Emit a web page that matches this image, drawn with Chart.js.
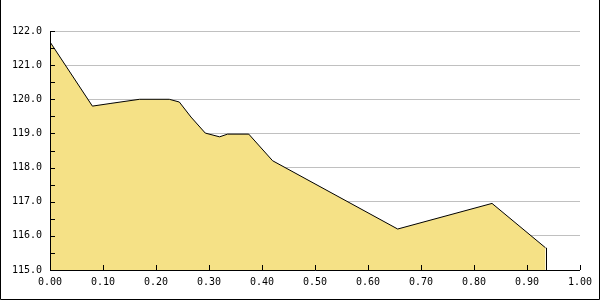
<!DOCTYPE html>
<html>
<head>
<meta charset="utf-8">
<script src="https://cdn.jsdelivr.net/npm/chart.js@4"></script>
<style>
  html, body { margin: 0; padding: 0; background: #fff; }
  #wrap { width: 600px; height: 300px; position: relative; }
</style>
</head>
<body>
<div id="wrap"><canvas id="area-chart" width="600" height="300"></canvas></div>
<script>
// values
var xs = [0.00, 0.080, 0.115, 0.169, 0.225, 0.244, 0.266, 0.293, 0.320, 0.335, 0.375, 0.420, 0.656, 0.834, 0.935];
var ys = [121.68, 119.80, 119.88, 120.00, 120.00, 119.92, 119.48, 119.01, 118.90, 118.98, 118.98, 118.20, 116.20, 116.95, 115.65];
var yTicks = [115, 116, 117, 118, 119, 120, 121, 122];
var xTicks = [0, 0.1, 0.2, 0.3, 0.4, 0.5, 0.6, 0.7, 0.8, 0.9, 1.0];

var points = xs.map(function (x, i) { return { x: x, y: ys[i] }; });

// small inward tick marks, closing edge of the area + outer frame lines
var extras = {
  id: 'extras',
  afterDraw: function (chart) {
    var ctx = chart.ctx, a = chart.chartArea;
    var sx = chart.scales.x, sy = chart.scales.y;
    var bottom = Math.round(a.bottom), left = Math.round(a.left);
    ctx.save();
    ctx.strokeStyle = '#000';
    ctx.lineWidth = 1;
    ctx.beginPath();
    // right edge of the filled area, from the last point down to the axis
    var last = points[points.length - 1];
    var lx = Math.round(sx.getPixelForValue(last.x)) + 0.5;
    ctx.moveTo(lx, sy.getPixelForValue(last.y));
    ctx.lineTo(lx, bottom);
    // axis lines
    ctx.moveTo(left + 0.5, a.top);
    ctx.lineTo(left + 0.5, bottom + 0.5);
    ctx.lineTo(a.right, bottom + 0.5);
    // y ticks at every half unit, pointing inward
    for (var v = 115; v <= 122; v += 0.5) {
      var py = Math.round(sy.getPixelForValue(v)) + 0.5;
      ctx.moveTo(left, py);
      ctx.lineTo(left + 5, py);
    }
    xTicks.forEach(function (t) {
      var px = Math.round(sx.getPixelForValue(t)) + 0.5;
      ctx.moveTo(px, bottom);
      ctx.lineTo(px, bottom - 5);
    });
    // frame
    ctx.moveTo(0.5, 0);
    ctx.lineTo(0.5, 299.5);
    ctx.lineTo(599.5, 299.5);
    ctx.lineTo(599.5, 0);
    ctx.stroke();
    ctx.restore();
  }
};

new Chart(document.getElementById('area-chart'), {
  type: 'line',
  data: {
    datasets: [{
      data: points,
      borderColor: '#000000',
      borderWidth: 1,
      backgroundColor: '#f5e186',
      fill: 'start',
      pointRadius: 0,
      tension: 0
    }]
  },
  options: {
    responsive: false,
    animation: false,
    layout: { padding: { left: 0, right: 20, top: 31, bottom: 0 } },
    plugins: {
      legend: { display: false },
      tooltip: { enabled: false }
    },
    scales: {
      x: {
        type: 'linear',
        min: 0,
        max: 1,
        afterBuildTicks: function (scale) {
          scale.ticks = xTicks.map(function (v) { return { value: v }; });
        },
        afterFit: function (scale) { scale.height = 30; },
        grid: { display: false, drawTicks: false },
        border: { display: false },
        ticks: {
          color: '#000',
          padding: 6,
          maxRotation: 0,
          font: { family: 'DejaVu Sans Mono', size: 10 },
          callback: function (v) { return Number(v).toFixed(2); }
        }
      },
      y: {
        min: 115,
        max: 122,
        afterBuildTicks: function (scale) {
          scale.ticks = yTicks.map(function (v) { return { value: v }; });
        },
        afterFit: function (scale) { scale.width = 50; },
        grid: { color: '#c0c0c0', drawTicks: false },
        border: { display: false },
        ticks: {
          color: '#000',
          padding: 8,
          font: { family: 'DejaVu Sans Mono', size: 10 },
          callback: function (v) { return Number(v).toFixed(1); }
        }
      }
    }
  },
  plugins: [extras]
});
</script>
</body>
</html>
